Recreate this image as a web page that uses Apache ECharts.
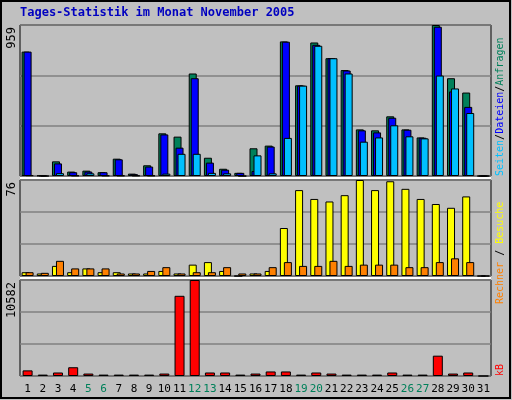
<!DOCTYPE html><html><head><meta charset="utf-8">
<script src="https://cdn.jsdelivr.net/npm/echarts@6/dist/echarts.min.js"></script>
<style>html,body{margin:0;padding:0;background:#c0c0c0}#c{width:512px;height:400px}</style></head><body><div id="c"></div>
<script>
var days=[];for(var i=1;i<=31;i++)days.push(String(i));
var weekend=['5','6','12','13','19','20','26','27'];
var anfragen=[790,3,93,28,34,24,110,15,68,271,250,651,116,46,20,176,193,855,576,848,748,673,296,290,379,296,245,959,621,530,0];
var dateien=[790,3,80,24,28,24,106,12,60,264,180,621,85,40,20,32,187,853,574,833,748,670,290,277,370,294,243,948,537,439,0];
var seiten=[5,0,18,3,17,3,3,3,3,15,141,141,20,17,0,131,17,242,574,827,748,651,218,245,322,252,239,638,556,400,0];
var besuche=[3,2,8,3,6,3,3,2,2,4,2,9,11,4,0,2,4,38,68,61,59,64,76,68,75,69,61,57,54,63,0];
var rechner=[3,2.5,12,6,6,6,2,2,4,7,2,3,3,7,2,2,7,11,8,8,12,8,9,9,9,7,7,11,14,11,0];
var kb=[620,155,386,965,270,155,155,155,155,270,8840,10582,386,386,155,270,500,500,155,386,270,155,155,155,386,155,155,2240,270,386,0];
var yMax=[959,76,10582];
var mono='DejaVu Sans Mono';
var grids=[{left:20,right:21,top:25,height:151},{left:20,right:21,top:180,height:96},{left:20,right:21,top:280,height:96}];
function yA(i){return {gridIndex:i,min:0,max:yMax[i],interval:yMax[i]/3,axisLine:{show:false},axisTick:{show:false},
 splitLine:{lineStyle:{color:'#808080',width:1.5}},axisLabel:{show:false}};}
function xA(i){return {gridIndex:i,type:'category',data:days,axisLine:{show:false},axisTick:{show:false},
 axisLabel:i===2?{show:true,fontFamily:mono,fontSize:11,interval:0,margin:8,color:function(v){return weekend.indexOf(v)>=0?'#00805a':'#000';}}:{show:false}};}
function bar(name,data,xi,color,w,gap){return {name:name,type:'bar',xAxisIndex:xi,yAxisIndex:xi,data:data,barWidth:w,barGap:gap,
 itemStyle:{color:color,borderColor:'#000',borderWidth:1},animation:false};}
function yl(i){return {type:'text',x:18,y:grids[i].top+2,rotation:Math.PI/2,style:{text:String(yMax[i]),fill:'#000',font:'12px "DejaVu Sans Mono"',align:'right',verticalAlign:'bottom'}};}
var ch=echarts.init(document.getElementById('c'));
ch.setOption({backgroundColor:'#c0c0c0',animation:false,
 grid:grids.map(function(g){return Object.assign({show:true,backgroundColor:'#c0c0c0',borderColor:'#000',borderWidth:1},g);}),
 xAxis:[xA(0),xA(1),xA(2)],yAxis:[yA(0),yA(1),yA(2)],
 series:[bar('Anfragen',anfragen,0,'#00805a',8,'-75%'),bar('Dateien',dateien,0,'#0000ff',8,'-75%'),bar('Seiten',seiten,0,'#00c0ff',8,'-75%'),
  bar('Besuche',besuche,1,'#ffff00',8,'-50%'),bar('Rechner',rechner,1,'#ff8000',8,'-50%'),
  bar('kb',kb,2,'#ff0000',10,'0%')],
 graphic:[
  {type:'rect',shape:{x:1,y:1,width:509,height:397},style:{fill:'none',stroke:'#000',lineWidth:2},silent:true},
  {type:'line',shape:{x1:20,y1:178,x2:491,y2:178},style:{stroke:'#fff',lineWidth:2}},
  {type:'line',shape:{x1:20,y1:278,x2:491,y2:278},style:{stroke:'#fff',lineWidth:2}},
  {type:'text',left:20,top:7,style:{text:'Tages-Statistik im Monat November 2005',fill:'#0000c0',font:'bold 12px "DejaVu Sans Mono"'}},
  yl(0),yl(1),yl(2),
  {type:'text',x:495,y:176,rotation:Math.PI/2,style:{text:'{a|Seiten}{k|/}{b|Dateien}{k|/}{c|Anfragen}',
    rich:{a:{fill:'#00c0ff',fontFamily:mono,fontSize:10},b:{fill:'#0000ff',fontFamily:mono,fontSize:10},c:{fill:'#00805a',fontFamily:mono,fontSize:10},k:{fill:'#000',fontFamily:mono,fontSize:10}}}},
  {type:'text',x:495,y:304,rotation:Math.PI/2,style:{text:'{a|Rechner}{k| / }{b|Besuche}',
    rich:{a:{fill:'#ff8000',fontFamily:mono,fontSize:10},b:{fill:'#ffff00',fontFamily:mono,fontSize:10},k:{fill:'#000',fontFamily:mono,fontSize:10}}}},
  {type:'text',x:495,y:376,rotation:Math.PI/2,style:{text:'kB',fill:'#ff0000',font:'10px "DejaVu Sans Mono"'}}
 ]});
</script></body></html>
